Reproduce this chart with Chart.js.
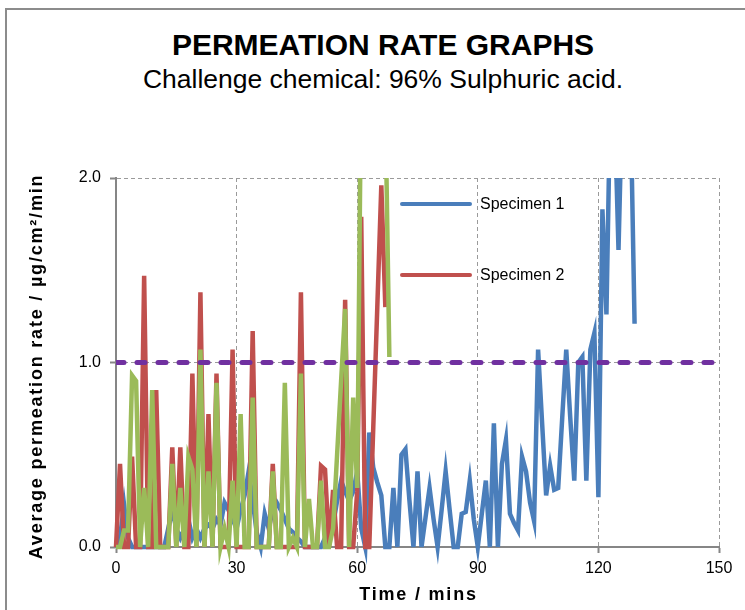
<!DOCTYPE html>
<html>
<head>
    <title>Permeation Rate Graphs</title>
    <script src="https://cdn.jsdelivr.net/npm/chart.js"></script>
    <style>
        html, body {
            margin: 0;
            overflow: hidden;
            background-color: #ffffff;
            font-family: "Liberation Sans", Arial, sans-serif;
        }

        .frame {
            position: absolute;
            left: 5px;
            top: 8px;
            width: 800px;
            height: 700px;
            border-left: 2px solid #8c8c8c;
            border-top: 2px solid #8c8c8c;
        }

        .heading {
            position: absolute;
            left: 0;
            width: 766px;
            text-align: center;
            color: #000000;
            margin: 0;
            white-space: nowrap;
        }

        .main-title {
            top: 30px;
            font-size: 30px;
            line-height: 30px;
            font-weight: bold;
        }

        .sub-title {
            top: 66px;
            font-size: 26.5px;
            line-height: 27px;
            font-weight: normal;
        }

        .chart-box {
            position: absolute;
            left: 0;
            top: 0;
            width: 745px;
            height: 610px;
        }
    </style>
</head>
<body>
    <div class="frame"></div>
    <h1 class="heading main-title">PERMEATION RATE GRAPHS</h1>
    <h2 class="heading sub-title">Challenge chemical: 96% Sulphuric acid.</h2>
    <div class="chart-box">
        <canvas id="permeationChart"></canvas>
    </div>

    <script>
        // sample times in minutes (one reading per minute)
        var minutes = [
            0, 1, 2, 3, 4, 5, 6, 7, 8, 9, 10, 11, 12, 13, 14, 15, 16, 17, 18, 19,
            20, 21, 22, 23, 24, 25, 26, 27, 28, 29, 30, 31, 32, 33, 34, 35, 36, 37, 38, 39,
            40, 41, 42, 43, 44, 45, 46, 47, 48, 49, 50, 51, 52, 53, 54, 55, 56, 57, 58, 59,
            60, 61, 62, 63, 64, 65, 66, 67, 68, 69, 70, 71, 72, 73, 74, 75, 76, 77, 78, 79,
            80, 81, 82, 83, 84, 85, 86, 87, 88, 89, 90, 91, 92, 93, 94, 95, 96, 97, 98, 99,
            100, 101, 102, 103, 104, 105, 106, 107, 108, 109, 110, 111, 112, 113, 114, 115, 116, 117, 118, 119,
            120, 121, 122, 123, 124, 125, 126, 127, 128, 129
        ];

        // average permeation rate, µg/cm²/min
        var specimen1 = [
            0, 0.05, 0.23, 0.05, 0, 0, 0, 0, 0, 0, 0, 0, 0, 0.1, 0.2, 0.1, 0.05, 0.1, 0.15, 0.05,
            0.1, 0.05, 0.1, 0.12, 0.1, 0.15, 0.12, 0.24, 0.2, 0.15, 0.1, 0.2, 0.28, 0.41, 0.25, 0.08, 0, 0.18, 0.1, 0.2,
            0.24, 0.2, 0.15, 0.1, 0.08, 0.05, 0.03, 0, 0, 0, 0, 0, 0.05, 0.1, 0.12, 0.25, 0.36, 0.3, 0.25, 0.3,
            0.41, 0.1, 0, 0.62, 0.43, 0.35, 0.28, 0, 0, 0.32, 0, 0.5, 0.53, 0.25, 0, 0.41, 0, 0.16, 0.32, 0.15,
            0, 0.2, 0.41, 0.2, 0, 0, 0.18, 0.19, 0.36, 0.15, 0, 0.18, 0.36, 0, 0.67, 0, 0.45, 0.58, 0.18, 0.13,
            0.09, 0.49, 0.41, 0.24, 0.14, 1.07, 0.67, 0.28, 0.44, 0.31, 0.32, 0.7, 1.07, 0.7, 0.36, 1.0, 1.03, 0.36, 1.07, 1.16,
            0.27, 1.83, 1.26, 2.5, 2.4, 1.61, 2.5, 2.6, 2.4, 1.21
        ];

        var specimen2 = [
            0, 0.45, 0, 0, 0.49, 0, 0, 1.47, 0, 0, 0.85, 0, 0, 0, 0.54, 0, 0.54, 0, 0, 0.94,
            0, 1.38, 0, 0.72, 0, 0.94, 0, 0, 0, 1.07, 0, 0, 0, 0, 1.17, 0, 0, 0, 0, 0.45,
            0, 0, 0, 0, 0, 0, 1.38, 0, 0, 0, 0, 0.44, 0.42, 0, 0.31, 0, 0, 1.34, 0, 0,
            0.3, 1.79, 0, 0, 0.65, 1.3, 1.96, 1.3
        ];

        var specimen3 = [
            0, 0, 0.09, 0.09, 0.93, 0.9, 0, 0.32, 0, 0.85, 0, 0, 0, 0, 0.45, 0, 0.32, 0, 0.49, 0.42,
            0, 1.07, 0, 0.41, 0, 0.89, 0, 0.1, 0, 0.36, 0, 0.72, 0, 0, 0.81, 0, 0, 0, 0, 0.41,
            0, 0, 0.89, 0, 0.05, 0, 0.94, 0, 0.26, 0, 0, 0.36, 0, 0, 0.1, 0.5, 0.9, 1.29, 0, 0.81,
            0.32, 2.6, 2.8, 2.7, 2.9, 2.6, 2.5, 2.4, 1.03
        ];

        var limitRate = 1.0;
        var xTicks = [0, 30, 60, 90, 120, 150];
        var yTicks = [0, 1, 2];

        var fontFamily = '"Liberation Sans", Arial, sans-serif';

        // legend drawn inside the plot, two rows far apart like the original
        var insideLegend = {
            id: 'insideLegend',
            afterDatasetsDraw: function(chart) {
                var ctx = chart.ctx;
                var area = chart.chartArea;
                var shown = chart.data.datasets.filter(function(ds) { return ds.showInLegend; }).reverse();
                shown.forEach(function(ds, row) {
                    var y = area.top + 26 + row * 71;
                    var x = area.left + 286;
                    ctx.save();
                    ctx.strokeStyle = ds.borderColor;
                    ctx.lineWidth = 4;
                    ctx.lineCap = 'round';
                    ctx.beginPath();
                    ctx.moveTo(x, y);
                    ctx.lineTo(x + 68, y);
                    ctx.stroke();
                    ctx.fillStyle = '#000000';
                    ctx.font = '16px ' + fontFamily;
                    ctx.textBaseline = 'middle';
                    ctx.fillText(ds.label, x + 78, y + 1);
                    ctx.restore();
                });
            }
        };

        // axis titles with the wide letter spacing of the original
        var axisTitles = {
            id: 'axisTitles',
            afterDraw: function(chart) {
                var ctx = chart.ctx;
                var area = chart.chartArea;
                ctx.save();
                ctx.fillStyle = '#000000';
                ctx.font = 'bold 18px ' + fontFamily;
                ctx.letterSpacing = '1.8px';
                ctx.textAlign = 'center';
                ctx.textBaseline = 'middle';
                ctx.fillText('Time / mins', (area.left + area.right) / 2 + 1, 595);
                ctx.translate(37, (area.top + area.bottom) / 2 + 4);
                ctx.rotate(-Math.PI / 2);
                ctx.fillText('Average permeation rate / µg/cm²/min', 0, 0);
                ctx.restore();
            }
        };

        var topClip = { left: false, top: 0, right: false, bottom: false };

        var ctx = document.getElementById('permeationChart').getContext('2d');
        var permeationChart = new Chart(ctx, {
            type: 'line',
            data: {
                labels: minutes,
                datasets: [
                    {
                        label: 'Limit',
                        data: [{ x: xTicks[0], y: limitRate }, { x: xTicks[xTicks.length - 1], y: limitRate }],
                        borderColor: '#7030a0',
                        borderWidth: 5,
                        borderDash: [8, 13],
                        borderCapStyle: 'round',
                        pointRadius: 0,
                        showInLegend: false
                    },
                    {
                        label: 'Specimen 3',
                        data: specimen3,
                        borderColor: '#9bbb59',
                        borderWidth: 4.5,
                        pointRadius: 0,
                        clip: topClip,
                        showInLegend: false
                    },
                    {
                        label: 'Specimen 2',
                        data: specimen2,
                        borderColor: '#c0504d',
                        borderWidth: 4.5,
                        pointRadius: 0,
                        clip: topClip,
                        showInLegend: true
                    },
                    {
                        label: 'Specimen 1',
                        data: specimen1,
                        borderColor: '#4a7ebb',
                        borderWidth: 4.5,
                        pointRadius: 0,
                        clip: topClip,
                        showInLegend: true
                    }
                ]
            },
            options: {
                responsive: true,
                maintainAspectRatio: false,
                animation: false,
                layout: {
                    padding: { left: 0, right: 26, top: 178, bottom: 0 }
                },
                elements: {
                    line: { tension: 0 }
                },
                plugins: {
                    legend: { display: false },
                    tooltip: { enabled: false }
                },
                scales: {
                    x: {
                        type: 'linear',
                        min: xTicks[0],
                        max: xTicks[xTicks.length - 1],
                        afterBuildTicks: function(axis) {
                            axis.ticks = xTicks.map(function(v) { return { value: v }; });
                        },
                        afterFit: function(axis) {
                            axis.height = 63;
                        },
                        ticks: {
                            color: '#000000',
                            font: { family: fontFamily, size: 16 },
                            padding: 6,
                            maxRotation: 0
                        },
                        grid: {
                            color: '#9a9a9a',
                            lineWidth: 1,
                            tickLength: 6,
                            tickColor: '#868686',
                            tickWidth: 2
                        },
                        border: { display: true, color: '#868686', width: 2, dash: [4, 3] }
                    },
                    y: {
                        min: yTicks[0],
                        max: yTicks[yTicks.length - 1],
                        afterBuildTicks: function(axis) {
                            axis.ticks = yTicks.map(function(v) { return { value: v }; });
                        },
                        afterFit: function(axis) {
                            axis.width = 116;
                        },
                        ticks: {
                            color: '#000000',
                            font: { family: fontFamily, size: 16 },
                            padding: 9,
                            callback: function(v) { return v.toFixed(1); }
                        },
                        grid: {
                            color: '#9a9a9a',
                            lineWidth: 1,
                            tickLength: 6,
                            tickColor: '#868686',
                            tickWidth: 2
                        },
                        border: { display: true, color: '#868686', width: 2, dash: [4, 3] }
                    }
                }
            },
            plugins: [insideLegend, axisTitles]
        });
    </script>
</body>
</html>
